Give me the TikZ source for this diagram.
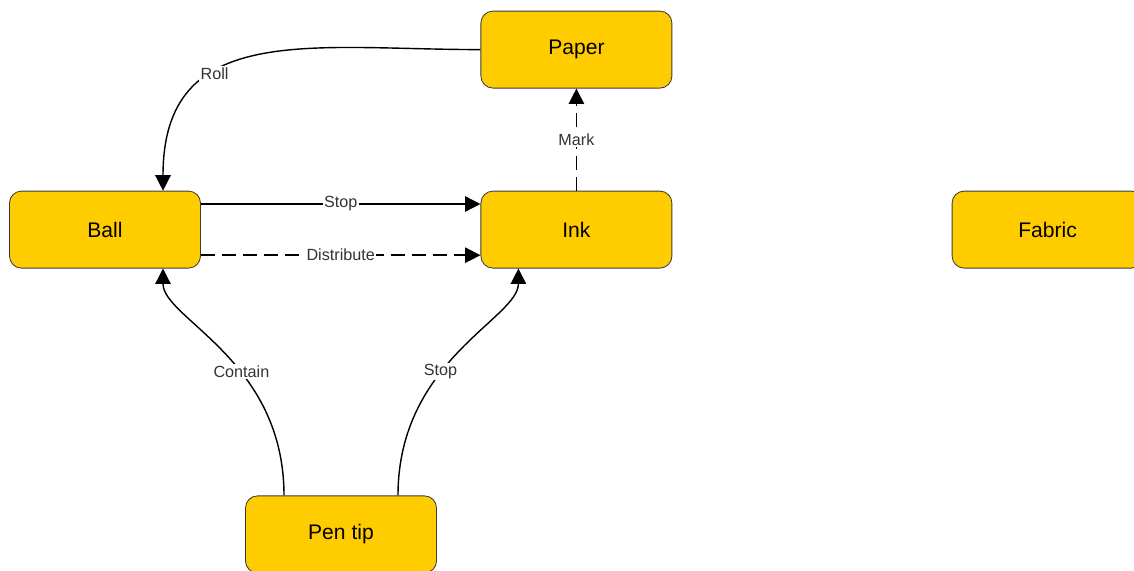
\documentclass[tikz,border=0pt]{standalone}
\usepackage{fontspec}
\setmainfont{Liberation Sans}
\usetikzlibrary{arrows.meta}

\definecolor{boxfill}{HTML}{FFCC00}
\definecolor{boxline}{HTML}{3C3C3C}
\definecolor{labeltext}{HTML}{333333}

\begin{document}
\begin{tikzpicture}[
        thing/.style={draw=boxline, line width=0.6pt, fill=boxfill, rounded corners=0.3cm,
            minimum width=4.775cm, minimum height=1.925cm, font=\fontsize{15}{17}\selectfont},
        rel/.style={line width=1pt, -{Triangle[length=11pt, width=11pt]}},
        relhint/.style={rel, dash pattern=on 10pt off 5pt},
        lbl/.style={fill=white, inner sep=1pt, text=labeltext, font=\fontsize{11.5}{13}\selectfont}
    ]
        \clip (0, 0) rectangle (28.35, 14.25);

        \node[thing] (paper) at (14.41, 13.01) {Paper};
        \node[thing] (ball) at (2.625, 8.51) {Ball};
        \node[thing] (ink) at (14.41, 8.51) {Ink};
        \node[thing] (fabric) at (26.19, 8.51) {Fabric};
        \node[thing] (pentip) at (8.525, 0.89) {Pen tip};

        \draw[rel] (paper.west) to[out=180, in=90, looseness=1.25] node[lbl, pos=0.64] {Roll} ([xshift=1.45cm]ball.north);
        \draw[rel] ([yshift=0.64cm]ball.east) to node[lbl, midway] {Stop} ([yshift=0.64cm]ink.west);
        \draw[relhint] ([yshift=-0.64cm]ball.east) to node[lbl, midway] {Distribute} ([yshift=-0.64cm]ink.west);
        \draw[relhint] (ink.north) to node[lbl, midway] {Mark} (paper.south);
        \draw[rel] ([xshift=-1.425cm]pentip.north) to[out=90, in=-90, out looseness=1.35, in looseness=0.5] node[lbl, pos=0.4] {Contain} ([xshift=1.45cm]ball.south);
        \draw[rel] ([xshift=1.425cm]pentip.north) to[out=90, in=-90, out looseness=1.35, in looseness=0.5] node[lbl, pos=0.4] {Stop} ([xshift=-1.45cm]ink.south);

    \end{tikzpicture}
\end{document}
